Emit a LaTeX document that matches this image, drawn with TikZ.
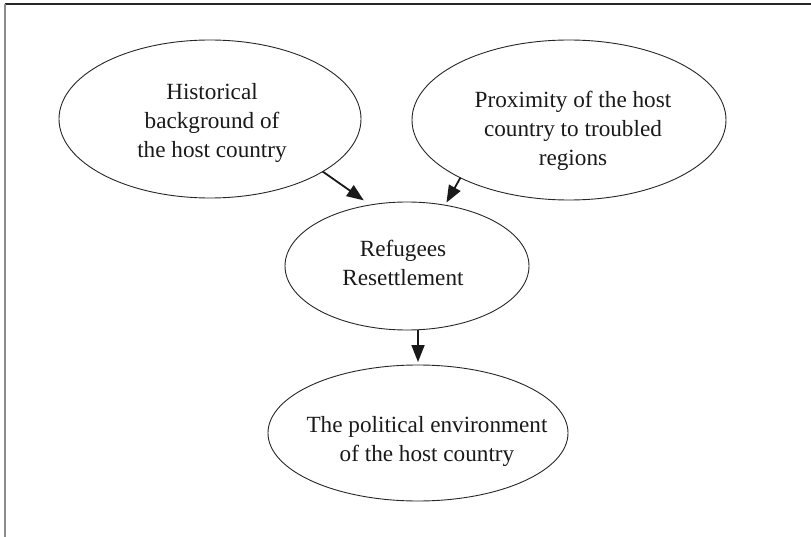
\documentclass[tikz,border=0pt]{standalone}
\usepackage{fontspec}
\setmainfont{Liberation Serif}
\usetikzlibrary{shapes.geometric,arrows.meta}
\tikzset{
  blob/.style={ellipse, draw=black!85, line width=0.9pt, inner sep=0pt, outer sep=0pt},
  txt/.style={align=center, inner sep=0pt, font=\fontsize{23.2}{29}\selectfont, text=black!90},
  arr/.style={line width=1.8pt, draw=black!90, -{Triangle[length=17pt,width=13pt]}},
}
\begin{document}
\begin{tikzpicture}[x=1pt,y=-1pt]
\useasboundingbox (0,0) rectangle (811,537);
% frame
\draw[line width=1.2pt, black!85] (5,4) -- (811,4);
\draw[line width=1.6pt, black!45] (5,4) -- (5,537);
% ellipses
\node[blob, minimum width=302pt, minimum height=158pt] (hist) at (210,119) {};
\node[blob, minimum width=314pt, minimum height=160pt] (prox) at (569,120) {};
\node[blob, minimum width=244pt, minimum height=128pt] (ref) at (407,266) {};
\node[blob, minimum width=300pt, minimum height=136pt] (pol) at (418,433) {};
% texts
\node[txt] (histt) at (212,123) {Historical\\background of\\the host country};
\node[txt] (proxt) at (573,131) {Proximity of the host\\country to troubled\\regions};
\node[txt] (reft) at (403,263) {Refugees\\Resettlement};
\node[txt] (polt) at (427,441) {The political environment\\of the host country};
% connectors
\draw[arr, shorten >=8pt] (hist.-25) -- (ref.121);
\draw[arr, shorten >=3pt] (prox.-152) -- (ref.58);
\draw[arr, shorten >=3pt] (ref.south -| pol.north) -- (pol.north);
\end{tikzpicture}
\end{document}
